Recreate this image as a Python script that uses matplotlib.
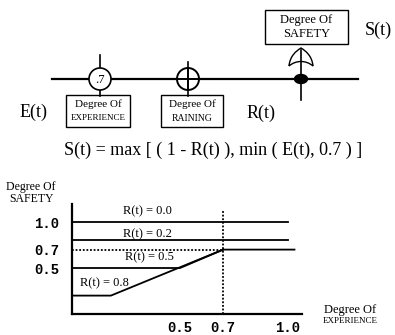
import numpy as np
import matplotlib.pyplot as plt
from matplotlib.patches import Circle, Ellipse, Rectangle, PathPatch
from matplotlib.path import Path

# curves S(t) vs E(t) for several R(t)
exp_r00 = [0.0, 1.0]
saf_r00 = [1.0, 1.0]
exp_r02 = [0.0, 1.0]
saf_r02 = [0.8, 0.8]
exp_r05 = [0.0, 0.5, 0.7, 1.03]
saf_r05 = [0.5, 0.5, 0.7, 0.7]
exp_r08 = [0.0, 0.18, 0.7]
saf_r08 = [0.2, 0.2, 0.7]
curve_labels = ["R(t) = 0.0", "R(t) = 0.2", "R(t) = 0.5", "R(t) = 0.8"]
ytick_vals = [0.5, 0.7, 1.0]
xtick_vals = [0.5, 0.7, 1.0]

serif = "Liberation Serif"
mono = "Liberation Mono"

fig = plt.figure(figsize=(3.95, 3.35), dpi=100)

# ---- top block diagram, drawn in pixel coordinates ----
bg = fig.add_axes([0, 0, 1, 1])
bg.set_xlim(0, 395)
bg.set_ylim(335, 0)
bg.axis("off")

lw = 1.6
bg.plot([52, 358], [79, 79], color="black", lw=lw)

# experience node
bg.plot([100, 100], [55, 96], color="black", lw=1.2)
bg.add_patch(Circle((100, 79), 11, facecolor="white", edgecolor="black", lw=1.2, zorder=3))
bg.text(100, 80, ".7", ha="center", va="center", fontsize=9, family=serif, zorder=4)

# raining node
bg.plot([188, 188], [62, 96], color="black", lw=1.2)
bg.add_patch(Circle((188, 79), 11, facecolor="white", edgecolor="black", lw=1.4, zorder=3))
bg.plot([177, 199], [79, 79], color="black", lw=1.4, zorder=4)
bg.plot([188, 188], [68, 90], color="black", lw=1.4, zorder=4)

# safety node
bg.plot([301, 301], [50, 100], color="black", lw=1.2)
bg.add_patch(Ellipse((301, 79), 13, 9, facecolor="black", edgecolor="black", zorder=3))
verts = [(289, 66), (290, 56), (296, 51), (301, 48),
         (306, 51), (312, 56), (313, 66),
         (306, 60), (296, 60), (289, 66)]
codes = [Path.MOVETO, Path.CURVE4, Path.CURVE4, Path.CURVE4,
         Path.CURVE4, Path.CURVE4, Path.CURVE4,
         Path.CURVE4, Path.CURVE4, Path.CURVE4]
bg.add_patch(PathPatch(Path(verts, codes), facecolor="none", edgecolor="black", lw=1.0))

# boxes: x, y, w, h, line1, line2, size1, size2
boxes = [(66, 95, 64, 32, "Degree Of", "EXPERIENCE", 8, 6.5),
         (161, 95, 62, 32, "Degree Of", "RAINING", 8, 7),
         (265, 10, 83, 34, "Degree Of", "SAFETY", 9, 9)]
for bx, by, bw, bh, t1, t2, fs1, fs2 in boxes:
    bg.add_patch(Rectangle((bx, by), bw, bh, facecolor="white", edgecolor="black", lw=1.0))
    bg.text(bx + bw / 2, by + bh * 0.30, t1, ha="center", va="center", fontsize=fs1, family=serif)
    bg.text(bx + bw / 2, by + bh * 0.72, t2, ha="center", va="center", fontsize=fs2, family=serif)

bg.text(34, 112, "E(t)", ha="center", va="center", fontsize=13, family=serif)
bg.text(261, 113, "R(t)", ha="center", va="center", fontsize=13, family=serif)
bg.text(378, 30, "S(t)", ha="center", va="center", fontsize=13, family=serif)
bg.text(213, 150, "S(t) = max [ ( 1 - R(t) ), min ( E(t), 0.7 ) ]",
        ha="center", va="center", fontsize=13, family=serif)

bg.text(31, 193, "Degree Of\nSAFETY", ha="center", va="center", fontsize=8.5,
        family=serif, linespacing=0.95)
bg.text(350, 310, "Degree Of", ha="center", va="center", fontsize=9, family=serif)
bg.text(350, 321, "EXPERIENCE", ha="center", va="center", fontsize=6.5, family=serif)

# ---- bottom chart ----
ax = fig.add_axes([72 / 395, (335 - 314) / 335, (302 - 72) / 395, (314 - 204) / 335])
ax.patch.set_alpha(0)
ax.set_xlim(0, 230 / 216)
ax.set_ylim(0, 110 / 92)
for s in ["top", "right"]:
    ax.spines[s].set_visible(False)
for s in ["left", "bottom"]:
    ax.spines[s].set_linewidth(1.6)

kw = dict(color="black", lw=1.3)
ax.plot(exp_r00, saf_r00, **kw)
ax.plot(exp_r02, saf_r02, **kw)
ax.plot(exp_r05, saf_r05, **kw)
ax.plot(exp_r08, saf_r08, **kw)

ax.plot([0, 0.7], [0.7, 0.7], color="black", lw=1.3, ls=(0, (1, 1)))
ax.plot([0.7, 0.7], [0, 1.13], color="black", lw=1.3, ls=(0, (1, 1)))

label_pos = [(0.35, 1.12), (0.35, 0.87), (0.36, 0.62), (0.15, 0.33)]
for (lx, ly), txt in zip(label_pos, curve_labels):
    ax.text(lx, ly, txt, ha="center", va="center", fontsize=9, family=serif)

ax.set_yticks(ytick_vals)
ax.set_yticklabels(["%.1f" % v for v in ytick_vals], family=mono, fontweight="bold", fontsize=10)
ax.set_xticks(xtick_vals)
ax.set_xticklabels(["%.1f" % v for v in xtick_vals], family=mono, fontweight="bold", fontsize=10)
ax.tick_params(axis="y", length=0, pad=9)
ax.tick_params(axis="x", length=0, pad=5)
ax.set_xticks([0.5, 1.0], minor=True)
ax.tick_params(axis="x", which="minor", direction="in", length=8, width=1.4)

fig.savefig("out.png", dpi=100)
